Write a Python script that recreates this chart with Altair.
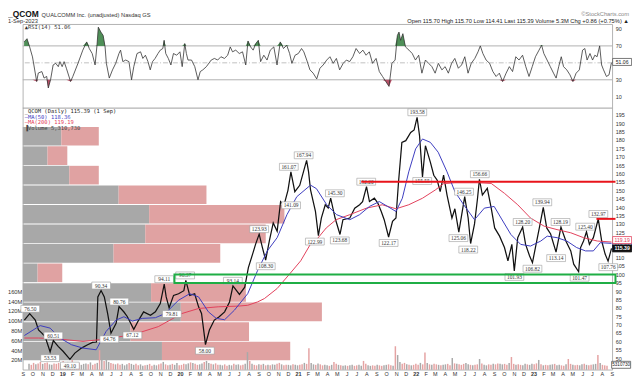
import altair as alt
import pandas as pd

BASE = pd.Timestamp("2018-09-01")
MONTH = 30.4375

# ---------------- data ----------------
# closing-price path: months after 1 Sep 2018, close
price_m = [0.16,0.7,1.27,1.6,1.94,2.27,2.78,3.11,3.6,4.1,
           4.8,5.3,5.97,6.6,7.1,7.5,7.64,7.97,8.3,8.64,
           8.98,9.5,9.8,10.3,10.65,11.3,11.8,12.3,13.0,13.5,
           14.0,14.4,14.6,14.9,15.35,15.86,16.4,16.6,17.0,17.5,
           17.9,18.2,18.5,18.6,19.0,19.5,20.0,20.55,21.05,21.4,
           22.06,22.6,22.97,23.4,23.7,24.07,24.4,24.73,25.1,25.5,
           25.9,26.25,26.6,27.0,27.3,27.7,28.2,28.9,29.1,29.3,
           29.8,30.1,30.4,30.8,31.1,31.35,31.8,32.3,32.6,33.3,
           33.8,34.3,34.6,35.0,35.3,35.8,36.15,36.5,36.8,37.25,
           37.65,38.0,38.26,38.6,39.0,39.5,39.85,40.15,40.4,40.7,
           41.0,41.5,41.85,42.2,42.5,42.85,43.2,43.7,44.0,44.4,
           45.0,45.35,45.6,46.0,46.3,46.5,46.8,47.3,47.7,48.05,
           48.55,49.05,49.4,49.8,50.05,50.4,50.9,51.2,51.6,51.9,
           52.2,52.6,53.0,53.35,53.75,54.3,54.8,55.3,55.8,56.1,
           56.6,56.8,57.1,57.4,57.7,58.1,58.6,58.95,59.3,59.6,
           59.95]
price_close = [72.7,76.5,72.7,66.8,64.9,62.9,53.8,60.5,57.0,54.1,
               49.3,53.0,56.0,58.0,59.4,59.6,86.5,90.3,86.5,76.6,
               64.9,70.8,80.7,77.5,74.7,67.2,72.7,77.6,75.6,77.6,
               82.5,94.1,86.5,80.0,87.4,88.4,90.2,96.3,87.4,88.4,
               80.6,76.6,63.0,58.1,66.8,72.7,74.7,77.6,83.5,93.1,
               88.0,92.3,104.0,112.0,117.8,123.9,115.9,108.4,119.8,130.6,
               125.6,143.3,141.2,150.0,161.0,149.2,153.0,167.9,161.0,150.2,
               137.4,123.0,133.5,141.4,139.5,145.3,133.5,123.7,132.5,133.5,
               139.4,141.4,143.3,152.2,143.3,145.3,142.4,137.4,132.5,122.2,
               131.5,133.5,155.0,178.6,179.6,184.5,186.0,193.5,182.5,158.0,
               176.6,166.8,159.0,156.0,149.2,159.0,147.2,133.5,139.0,125.1,
               146.2,133.5,118.3,130.0,145.0,156.6,147.2,151.2,139.4,127.6,
               122.7,115.9,108.0,117.8,102.0,121.8,128.1,117.8,111.0,106.9,
               115.9,127.6,139.9,127.6,124.0,113.2,128.1,119.8,113.9,106.0,
               101.5,115.9,119.8,125.3,117.8,121.8,132.9,119.8,112.0,107.8,
               115.4]

ma50_m = [0.16,1.77,2.78,3.78,4.96,6.13,7.47,8.48,9.5,10.3,
          11.16,12.16,13.5,14.5,15.85,17.0,17.9,18.9,19.7,20.55,
          21.55,22.9,23.9,24.9,25.9,26.9,27.9,29.3,29.9,30.95,
          31.95,33.3,34.3,35.3,36.3,37.15,38.0,38.65,39.3,40.0,
          40.7,41.5,42.3,43.2,44.0,44.9,46.0,47.0,48.0,48.7,
          49.7,50.7,51.7,52.75,53.4,54.4,55.4,56.4,57.3,58.1,
          58.8,59.95]
ma50_val = [63.5,69.4,67.9,62.0,58.0,56.0,55.0,65.9,72.7,74.7,
            72.1,73.7,74.1,76.6,84.5,88.4,86.5,77.6,73.7,72.9,
            78.6,88.4,102.1,113.9,121.8,135.5,146.2,153.1,151.0,141.4,
            135.5,132.5,135.5,140.4,143.3,140.4,137.4,145.3,161.0,174.7,
            180.6,178.6,172.7,161.0,149.2,141.4,132.5,139.4,140.4,133.5,
            123.7,117.8,116.8,119.8,122.7,121.8,119.8,115.9,113.9,113.9,
            118.8,118.4]

ma200_m = [0.16,1.6,3.5,6.13,7.8,11.16,13.8,16.2,17.9,19.9,
           21.9,22.9,23.9,24.6,25.9,27.25,28.3,29.3,29.9,30.9,
           31.9,33.3,35.0,36.6,38.0,39.3,40.7,42.0,42.85,44.0,
           46.4,47.7,49.05,50.4,51.7,53.1,54.4,55.8,57.1,58.5,
           59.95]
ma200_val = [62.0,62.0,61.5,60.0,61.0,63.9,68.8,76.6,79.6,80.6,
             81.0,81.5,83.5,85.5,91.5,100.7,108.0,118.0,120.5,127.6,
             132.5,135.5,139.4,141.4,139.0,141.4,145.3,150.2,154.0,154.5,
             154.5,154.1,148.2,141.4,133.5,128.6,126.6,124.7,121.8,119.8,
             119.2]

# RSI(14): days after 1 Sep 2018, value
rsi_day = [4,13,21,30,43,48,59,66,74,79,
           86,94,102,110,115,122,128,135,148,155,
           171,186,198,206,215,224,230,234,242,249,
           255,259,268,278,288,298,303,310,319,329,
           337,344,354,365,372,380,388,395,402,410,
           419,426,434,438,443,451,459,467,477,487,
           494,502,507,512,523,533,543,550,558,569,
           584,594,604,614,625,635,643,650,660,671,
           681,691,698,706,714,722,730,737,747,757,
           767,778,788,798,808,818,827,834,844,854,
           864,871,880,890,900,
           911,921,931,942,952,962,972,982,993,1003,
           1013,1023,1033,1044,1054,1064,1074,1084,1095,1105,
           1115,1125,1135,1144,1154,1161,1166,1171,1178,1186,
           1197,1207,1217,1227,1237,1248,1258,1268,1278,1288,
           1299,1309,1319,1329,1339,1350,1360,1370,1380,1390,
           1401,1411,1418,1426,1436,1447,1457,1467,1477,1487,
           1498,1508,1518,1528,1538,1549,1559,1569,1579,1589,
           1600,1608,1615,1625,1635,1645,1653,1661,1669,1676,
           1686,1696,1705,1715,1725,1735,1742,1749,1758,1766,
           1773,1780,1788,1794,1800,1809,1817,1824,1829]
rsi_val = [74.7,78.5,69,57,28,38,39.7,32,34,20.3,
           30,47.5,49.4,45.5,51.4,45.5,51.4,43.6,28,33.9,
           49.4,65,74.7,66.9,61,47.5,70.8,92.1,86.3,82.4,
           68.8,49.4,32,41.7,49.4,61,65,51.4,53.3,51.4,
           30,45.5,61,63,55.2,59,51.4,41.7,51.4,55.2,
           61,65,66.9,76.6,61,55.2,47.5,61,59,63,
           45.5,72.7,61,53.3,53.3,45.5,30,39.7,41.7,45.5,
           53.3,55.2,53.3,57.2,55.2,59,68.8,63,65,61,
           63,47.5,75.8,68.8,65,72.7,76.6,51.4,59,53.3,
           65,68.8,47.5,74.7,66.9,70.8,61,49.4,59,61,
           66.9,63,53.3,41.7,37.8,
           31,43.6,47.5,53.3,57.2,49.4,55.2,41.7,49.4,53.3,
           51.4,57.2,66.9,61,65,59,63,49.4,55.2,39.7,
           33.9,28,22.2,49.4,53.3,82.4,86.3,76.6,84.4,68.8,
           65,61,53.3,59,37.8,53.3,49.4,45.5,37.8,49.4,
           41.7,45.5,37.8,49.4,55.2,43.6,47.5,57.2,37.8,49.4,
           55.2,63,70,61,53.3,49.4,39.7,33.9,37.8,28,
           37.8,45.5,39.7,57.2,53.3,59,45.5,33.9,45.5,57.2,
           65,70.8,61,53.3,45.5,37.8,32,45.5,57.2,45.5,
           41.7,35.8,28,37.8,41.7,65,66.9,53.3,61,53.3,
           59,57.2,70,47.5,41.7,33.9,35.8,49.4,51.1]

# daily volume (millions), sampled about once a week, and up/down colour
vol_m = [12,10,14,11,13,16,12,14,15,11,10,13,12,14,12,18,11,
         16,13,20,12,11,14,10,12,13,11,15,10,12,14,40,32,18,24,16,14,12,11,13,10,12,9,11,14,12,10,12,9,11,8,9,10,12,8,10,9,11,13,16,11,9,10,12,10,14,9,
         10,12,11,13,15,14,12,10,11,13,16,18,14,12,11,13,10,10,9,11,8,10,9,12,10,11,9,10,12,36,18,12,10,9,11,10,12,9,10,9,11,10,12,14,11,9,10,10,9,11,10,
         9,10,11,14,12,44,14,11,10,13,11,9,10,9,8,10,16,12,10,9,8,9,8,9,10,8,9,10,8,18,12,9,8,9,8,10,9,8,9,10,11,9,8,48,30,16,12,14,11,10,9,10,
         12,10,14,11,35,14,11,10,12,11,10,9,10,11,12,9,24,13,12,11,10,12,14,11,10,9,10,11,22,13,10,9,11,10,12,11,13,12,11,12,10,14,26,12,10,11,10,9,12,11,
         10,12,11,13,20,11,9,10,9,10,11,12,9,10,9,8,11,22,12,10,9,10,9,11,12,10,9,10,11,12,30,14,10,9,8]
vol_dir = ("udduddudduudddudd"
           "uududduuududdududuuddudduuuduudduududduuddudduduud"
           "dduududduuduududduudduuduudduududdudududuuddudduudu"
           "uddudduududduududduduuduudduudduuddudduudduduuddudud"
           "dduddududduduuddududdduududduduuddudduudduddudduud"
           "uuddududduuduudduddudduududduududddu")

# volume-by-price bins (price range) with up / down volume (millions of shares)
vbp_low = [48.7, 60.3, 72.0, 83.6, 95.3, 106.9, 118.5, 130.2, 141.8, 153.5, 165.1, 176.7]
vbp_high = [59.8, 71.4, 83.1, 94.7, 106.4, 118.0, 129.6, 141.3, 152.9, 164.6, 176.2, 187.8]
vbp_up = [716, 554, 813, 660, 76, 467, 630, 650, 493, 239, 127, 198]
vbp_down = [660, 610, 726, 488, 127, 549, 620, 696, 452, 152, 102, 193]

# annotated highs (H) / lows (L)
ann_m = [0.76,2.78,3.11,4.79,7.98,8.81,9.82,11.16,14.4,15.18,
         16.53,18.54,21.39,24.07,24.74,27.32,27.09,28.6,29.74,31.78,
         32.28,34.97,37.25,40.17,40.67,44.93,44.36,45.36,46.54,50.06,
         50.9,51.9,52.9,54.76,54.31,56.7,57.27,58.61,59.62]
ann_val = [76.50,53.53,60.51,49.10,90.34,64.76,80.76,67.12,94.11,79.81,
           96.37,58.00,93.14,123.93,108.30,141.09,161.07,167.94,122.99,145.30,
           123.68,152.20,122.17,193.58,155.55,146.25,125.06,118.22,156.66,101.93,
           128.20,106.82,139.94,128.19,113.14,101.47,125.40,132.97,107.76]
ann_kind = "HLHLHLHLHLHLHHLCHHLHLHLHCHLLHLHLHHLLHHL"

# drawn levels
resist_price = 155.1
resist_start = "2021-07-16"
short_price = 133.0
short_start = "2023-07-15"
zone_low, zone_high = 94.8, 99.8
zone_start = "2019-12-15"
line_end = "2023-09-12"

# right-axis price labels (115 and 120 sit under the value flags)
price_ticks = [50, 55, 60, 65, 70, 75, 80, 85, 90, 95, 100, 105, 110,
               125, 130, 135, 140, 145, 150, 155, 160, 165, 170, 175, 180, 185, 190, 195]

# ---------------- frames ----------------
def m2d(ms):
    return [BASE + pd.Timedelta(days=m * MONTH) for m in ms]

def d2d(ds):
    return [BASE + pd.Timedelta(days=d) for d in ds]

df_price = pd.DataFrame({"date": m2d(price_m), "v": price_close})
df_ma50 = pd.DataFrame({"date": m2d(ma50_m), "v": ma50_val})
df_ma200 = pd.DataFrame({"date": m2d(ma200_m), "v": ma200_val})
df_rsi = pd.DataFrame({"date": d2d(rsi_day), "rsi": rsi_val})
vd = (vol_dir + "u" * len(vol_m))[:len(vol_m)]
df_vol = pd.DataFrame({
    "date": pd.date_range("2018-09-05", "2023-09-01", periods=len(vol_m)),
    "vol": vol_m,
    "c": ["#a9a9a9" if ch == "u" else "#e5a3a3" for ch in vd],
})
rows = []
for lo, hi, up, dn in zip(vbp_low, vbp_high, vbp_up, vbp_down):
    rows.append({"x0": 0, "x1": up, "lo": lo, "hi": hi, "c": "#a8a8a8"})
    rows.append({"x0": up, "x1": up + dn, "lo": lo, "hi": hi, "c": "#e0a2a2"})
df_vbp = pd.DataFrame(rows)
df_ann = pd.DataFrame({
    "date": m2d(ann_m), "v": ann_val, "k": list(ann_kind),
    "t": [f"{v:.2f}" for v in ann_val],
})

W, H = 597, 350
XS = alt.Scale(domain=[alt.DateTime(year=2018, month=9, date=1),
                       alt.DateTime(year=2023, month=9, date=2)])
PS = alt.Scale(domain=[43.1, 249.0], nice=False, zero=False)
RS = alt.Scale(domain=[-312.3, 95.64], nice=False, zero=False)
VS = alt.Scale(domain=[0, 705.6], nice=False, zero=False)
BS = alt.Scale(domain=[0, 3033], nice=False, zero=False)

SANS = "Liberation Sans"
SERIF = "Liberation Serif"
MONO = "DejaVu Sans Mono"
BOX = "M-1.36,-0.5H1.36V0.5H-1.36Z"

X_NONE = alt.X("date:T", scale=XS, axis=None)

x_axis = alt.Axis(
    orient="bottom", tickCount="month", title=None, grid=False, domain=False,
    ticks=False, labelPadding=2, labelFontSize=5.5, labelFont=SANS, labelColor="#333",
    labelOverlap=False, labelFlush=False, labelBound=False,
    labelExpr="month(datum.value) == 0 ? timeFormat(datum.value, '%y') : substring(timeFormat(datum.value, '%b'), 0, 1)",
    labelFontWeight={"condition": {"test": "month(datum.value) == 0", "value": "bold"}, "value": "normal"},
)
price_axis = alt.Axis(orient="right", values=price_ticks, title=None, grid=False,
                      domain=False, ticks=False, labelPadding=3, labelFontSize=5.5,
                      labelFont=SANS, labelColor="#333", labelOverlap=False)
rsi_axis = alt.Axis(orient="right", values=[10, 30, 70, 90], title=None, grid=False,
                    domain=False, ticks=False, labelPadding=3, labelFontSize=5.5,
                    labelFont=SANS, labelColor="#333")
vol_axis = alt.Axis(orient="left", values=list(range(20, 180, 20)), title=None, grid=False,
                    domain=False, ticks=False, labelPadding=1, labelFontSize=5.8,
                    labelFont=SANS, labelColor="#333", labelExpr="datum.value + 'M'")

layers = []

# volume by price
layers.append(alt.Chart(df_vbp).mark_rect().encode(
    x=alt.X("x0:Q", scale=BS, axis=None), x2="x1:Q",
    y=alt.Y("lo:Q", scale=PS, axis=None), y2="hi:Q",
    color=alt.Color("c:N", scale=None)))

# volume
layers.append(alt.Chart(df_vol).mark_bar(width=1.5).encode(
    x=X_NONE, y=alt.Y("vol:Q", scale=VS, axis=vol_axis),
    color=alt.Color("c:N", scale=None)))

# RSI panel
layers.append(alt.Chart(pd.DataFrame({"v": [30, 70]})).mark_rule(color="#b0b0b0", strokeWidth=1).encode(
    y=alt.Y("v:Q", scale=RS, axis=None)))
layers.append(alt.Chart(pd.DataFrame({"v": [50]})).mark_rule(color="#b0b0b0", strokeWidth=0.8, strokeDash=[5, 2, 1, 2]).encode(
    y=alt.Y("v:Q", scale=RS, axis=None)))
layers.append(alt.Chart(df_rsi).transform_calculate(hi="max(datum.rsi, 70)").mark_area(color="#4f8f58").encode(
    x=X_NONE, y=alt.Y("hi:Q", scale=RS, axis=None), y2=alt.datum(70)))
layers.append(alt.Chart(df_rsi).transform_calculate(lo="min(datum.rsi, 30)").mark_area(color="#b55268").encode(
    x=X_NONE, y=alt.Y("lo:Q", scale=RS, axis=None), y2=alt.datum(30)))
layers.append(alt.Chart(df_rsi).mark_line(color="#333333", strokeWidth=0.8).encode(
    x=X_NONE, y=alt.Y("rsi:Q", scale=RS, axis=rsi_axis)))
layers.append(alt.Chart(pd.DataFrame({"a": [0]})).mark_rule(color="#a0a0a0", strokeWidth=1).encode(
    y=alt.value(85)))

# price + moving averages
layers.append(alt.Chart(df_price).mark_line(color="#111111", strokeWidth=1.25).encode(
    x=alt.X("date:T", scale=XS, axis=x_axis), y=alt.Y("v:Q", scale=PS, axis=price_axis)))
layers.append(alt.Chart(df_ma200).mark_line(color="#e2405a", strokeWidth=1).encode(
    x=X_NONE, y=alt.Y("v:Q", scale=PS, axis=None)))
layers.append(alt.Chart(df_ma50).mark_line(color="#3c3cbf", strokeWidth=1).encode(
    x=X_NONE, y=alt.Y("v:Q", scale=PS, axis=None)))

# annotation boxes
for kind, off in (("H", -5), ("L", 6), ("C", 0)):
    sub = df_ann[df_ann["k"] == kind]
    layers.append(alt.Chart(sub).mark_point(shape=BOX, size=196, filled=True, fill="white",
                                            stroke="#9a9a9a", strokeWidth=0.6, opacity=1,
                                            yOffset=off).encode(
        x=X_NONE, y=alt.Y("v:Q", scale=PS, axis=None)))
    layers.append(alt.Chart(sub).mark_text(font=SERIF, fontSize=5.5, color="#333", yOffset=off).encode(
        x=X_NONE, y=alt.Y("v:Q", scale=PS, axis=None), text="t:N"))

# drawn support / resistance
layers.append(alt.Chart(pd.DataFrame({"a": [zone_start], "b": [line_end], "lo": [zone_low], "hi": [zone_high]}))
              .mark_rect(fillOpacity=0, stroke="#1fae45", strokeWidth=2).encode(
    x=alt.X("a:T", scale=XS, axis=None), x2="b:T",
    y=alt.Y("lo:Q", scale=PS, axis=None), y2="hi:Q"))
layers.append(alt.Chart(pd.DataFrame({"a": [resist_start, short_start], "b": [line_end, line_end],
                                      "v": [resist_price, short_price]}))
              .mark_rule(color="#e8141b", strokeWidth=2).encode(
    x=alt.X("a:T", scale=XS, axis=None), x2="b:T", y=alt.Y("v:Q", scale=PS, axis=None)))

# value flags on the right
def flag(value, scale, text, fill, stroke, tcolor, yoff=0, weight="normal"):
    df = pd.DataFrame({"v": [value], "t": [text]})
    box = alt.Chart(df).mark_point(shape=BOX, size=200, filled=True, fill=fill, stroke=stroke,
                                   strokeWidth=0.8, opacity=1, yOffset=yoff).encode(
        x=alt.value(607), y=alt.Y("v:Q", scale=scale, axis=None))
    txt = alt.Chart(df).mark_text(font=SANS, fontSize=5.2, color=tcolor, fontWeight=weight, yOffset=yoff).encode(
        x=alt.value(607), y=alt.Y("v:Q", scale=scale, axis=None), text="t:N")
    return [box, txt]

layers += flag(118.36, PS, "118.36", "white", "#3c3cbf", "#3c3cbf", 3)
layers += flag(119.19, PS, "119.19", "white", "#e2405a", "#e2405a", -2)
layers += flag(115.39, PS, "115.39", "#111111", "#111111", "white", 0, "bold")
layers += flag(51.06, RS, "51.06", "white", "#555555", "#222222", 0)
vflag = pd.DataFrame({"t": ["5310730"]})
layers.append(alt.Chart(vflag).mark_point(shape=BOX, size=200, filled=True, fill="white", stroke="#555",
                                          strokeWidth=0.8, opacity=1).encode(x=alt.value(606), y=alt.value(345)))
layers.append(alt.Chart(vflag).mark_text(font=SANS, fontSize=4.6, color="#222").encode(
    x=alt.value(606), y=alt.value(345), text="t:N"))

# texts
def label(text, x, y, size=6, color="#333", align="left", baseline="top", weight="normal", font=SANS):
    return alt.Chart(pd.DataFrame({"t": [text]})).mark_text(
        align=align, baseline=baseline, fontSize=size, color=color, fontWeight=weight, font=font).encode(
        x=alt.value(x), y=alt.value(y), text="t:N")

layers += [
    label("_QCOM", -15, -14, size=8.5, color="#111", weight="bold"),
    label("QUALCOMM Inc. (unadjusted)   Nasdaq GS", 19, -12.5, size=5.8),
    label("1-Sep-2023", -15, -6, size=5.8),
    label("\u00a9StockCharts.com", 614, -13.5, size=5.8, color="#888", align="right"),
    label("Open 115.70  High 115.70  Low 114.41  Last 115.39  Volume 5.3M  Chg +0.86 (+0.75%) \u25b2",
          614, -6.5, size=5.8, color="#222", align="right"),
    label("\u25b2RSI(14) 51.06", 2, 1, size=5.5, font=MONO, color="#333"),
    label("_QCOM (Daily) 115.39 (1 Sep)", 2, 86, size=5.5, font=MONO, color="#222"),
    label("\u2014MA(50) 118.36", 2, 92, size=5.5, font=MONO, color="#3c3cbf"),
    label("\u2014MA(200) 119.19", 2, 97.5, size=5.5, font=MONO, color="#e2405a"),
    label("\u2590Volume 5,310,730", 2, 103, size=5.5, font=MONO, color="#444"),
]

chart = (alt.layer(*layers)
         .resolve_scale(x="independent", y="independent")
         .properties(width=W, height=H,
                     padding={"left": 15, "top": 14, "right": 20, "bottom": 8},
                     autosize=alt.AutoSizeParams(type="none"),
                     background="white")
         .configure_view(stroke="#a0a0a0", strokeWidth=0.8))

chart.save("out.html", embed_options={"renderer": "svg", "actions": False})
